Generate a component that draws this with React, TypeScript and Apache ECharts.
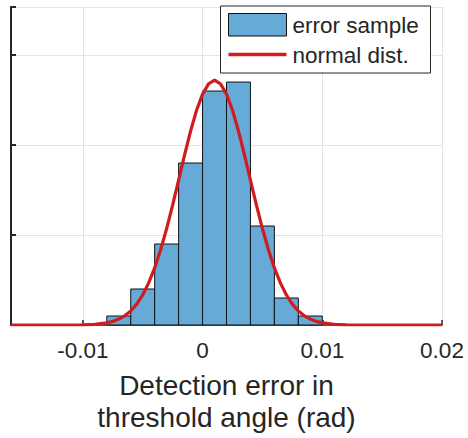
import React, { useEffect, useRef } from "react";
import * as echarts from "echarts";

const binEdges = [-0.008, -0.006, -0.004, -0.002, 0, 0.002, 0.004, 0.006, 0.008, 0.01];
const binDensity = [5, 20, 45, 90, 130, 135, 55, 15, 5];

const curveX = [
  -0.016, -0.014, -0.012, -0.01, -0.009, -0.008, -0.0075, -0.007, -0.0065, -0.006, -0.0055, -0.005,
  -0.0045, -0.004, -0.0035, -0.003, -0.0025, -0.002, -0.0015, -0.001, -0.0005, 0, 0.0005, 0.001,
  0.0015, 0.002, 0.0025, 0.003, 0.0035, 0.004, 0.0045, 0.005, 0.0055, 0.006, 0.0065, 0.007, 0.0075,
  0.008, 0.0085, 0.009, 0.0095, 0.01, 0.011, 0.012, 0.014, 0.016, 0.018, 0.02,
];
const curveY = [
  0, 0, 0.01, 0.12, 0.4, 1.2, 2.0, 3.3, 5.1, 7.8, 11.6, 16.7, 23.4, 31.7, 41.8, 53.6, 66.6, 80.5,
  94.5, 107.7, 119.3, 128.3, 134.0, 136, 134.0, 128.3, 119.3, 107.7, 94.5, 80.5, 66.6, 53.6, 41.8,
  31.7, 23.4, 16.7, 11.6, 7.8, 5.1, 3.3, 2.0, 1.2, 0.4, 0.12, 0.01, 0, 0, 0,
];

const xTickValues = [-0.01, 0, 0.01, 0.02];
const xTickLabels = ["-0.01", "0", "0.01", "0.02"];
const legendLabels = ["error sample", "normal dist."];
const axisTitle = "Detection error in\nthreshold angle (rad)";

const FONT = '"Liberation Sans", Arial, Helvetica, sans-serif';
const TXT = "#262626";
const BAR = "#66aad7";
const RED = "#d01b20";
const GRID = "#e3e3e3";

export default function App() {
  const ref = useRef<HTMLDivElement>(null);
  useEffect(() => {
    if (!ref.current) return;
    const chart = echarts.init(ref.current, undefined, { renderer: "svg" });
    const histData = binDensity.map((h, i) => [binEdges[i], binEdges[i + 1], h]);
    const lineData = curveX.map((x, i) => [x, curveY[i]]);
    chart.setOption({
      animation: false,
      textStyle: { fontFamily: FONT },
      grid: { left: 11, right: 26, top: 7, bottom: 113, containLabel: false },
      xAxis: {
        type: "value",
        min: -0.016,
        max: 0.02,
        axisLine: { show: true, onZero: false, lineStyle: { color: TXT, width: 1.5 } },
        axisTick: {
          show: true,
          inside: true,
          length: 5,
          customValues: xTickValues,
          lineStyle: { color: TXT, width: 1.5 },
        },
        axisLabel: {
          show: true,
          customValues: xTickValues,
          formatter: (v: number) => {
            const i = xTickValues.findIndex((t) => Math.abs(t - v) < 1e-9);
            return i >= 0 ? xTickLabels[i] : "";
          },
          color: TXT,
          fontSize: 22.5,
          lineHeight: 22,
          margin: 14,
          fontFamily: FONT,
        },
        splitLine: { show: true, lineStyle: { color: GRID, width: 1 } },
        name: axisTitle,
        nameLocation: "middle",
        nameGap: 44,
        nameTextStyle: { color: TXT, fontSize: 28, lineHeight: 32, fontFamily: FONT },
      },
      yAxis: {
        type: "value",
        min: 0,
        max: 176.7,
        interval: 50,
        axisLine: { show: true, onZero: false, lineStyle: { color: TXT, width: 2 } },
        axisTick: { show: true, inside: true, length: 5, lineStyle: { color: TXT, width: 2 } },
        axisLabel: { show: false },
        splitLine: { show: true, lineStyle: { color: GRID, width: 1 } },
      },
      series: [
        {
          type: "custom",
          name: legendLabels[0],
          data: histData,
          encode: { x: [0, 1], y: 2 },
          z: 2,
          renderItem: (params: any, api: any) => {
            const x0 = api.value(0);
            const x1 = api.value(1);
            const h = api.value(2);
            const p0 = api.coord([x0, h]);
            const p1 = api.coord([x1, 0]);
            return {
              type: "rect",
              shape: { x: p0[0], y: p0[1], width: p1[0] - p0[0], height: p1[1] - p0[1] },
              style: { fill: BAR, stroke: "#111111", lineWidth: 1 },
            };
          },
        },
        {
          type: "line",
          name: legendLabels[1],
          data: lineData,
          showSymbol: false,
          symbol: "none",
          smooth: false,
          z: 3,
          lineStyle: { color: RED, width: 3.2 },
        },
      ],
      graphic: [
        {
          id: "lgBox",
          type: "rect",
          z: 100,
          shape: { x: 220.5, y: 6, width: 210, height: 67 },
          style: { fill: "#ffffff", stroke: TXT, lineWidth: 1 },
        },
        {
          id: "lgPatch",
          type: "rect",
          z: 101,
          shape: { x: 228.5, y: 13.5, width: 58, height: 22.5 },
          style: { fill: BAR, stroke: "#111111", lineWidth: 1 },
        },
        {
          id: "lgLine",
          type: "line",
          z: 101,
          shape: { x1: 228.5, y1: 54.5, x2: 286.5, y2: 54.5 },
          style: { stroke: RED, lineWidth: 3.5, fill: null },
        },
        {
          id: "lgText1",
          type: "text",
          z: 101,
          x: 292.5,
          y: 25.5,
          style: {
            text: legendLabels[0],
            fill: TXT,
            fontSize: 22.5,
            fontFamily: FONT,
            verticalAlign: "middle",
            align: "left",
          },
        },
        {
          id: "lgText2",
          type: "text",
          z: 101,
          x: 292.5,
          y: 55,
          style: {
            text: legendLabels[1],
            fill: TXT,
            fontSize: 22.5,
            fontFamily: FONT,
            verticalAlign: "middle",
            align: "left",
          },
        },
      ],
    });
    return () => chart.dispose();
  }, []);
  return (
    <div
      ref={ref}
      style={{ position: "fixed", left: 0, top: 0, width: 468, height: 438, background: "#fff" }}
    />
  );
}
